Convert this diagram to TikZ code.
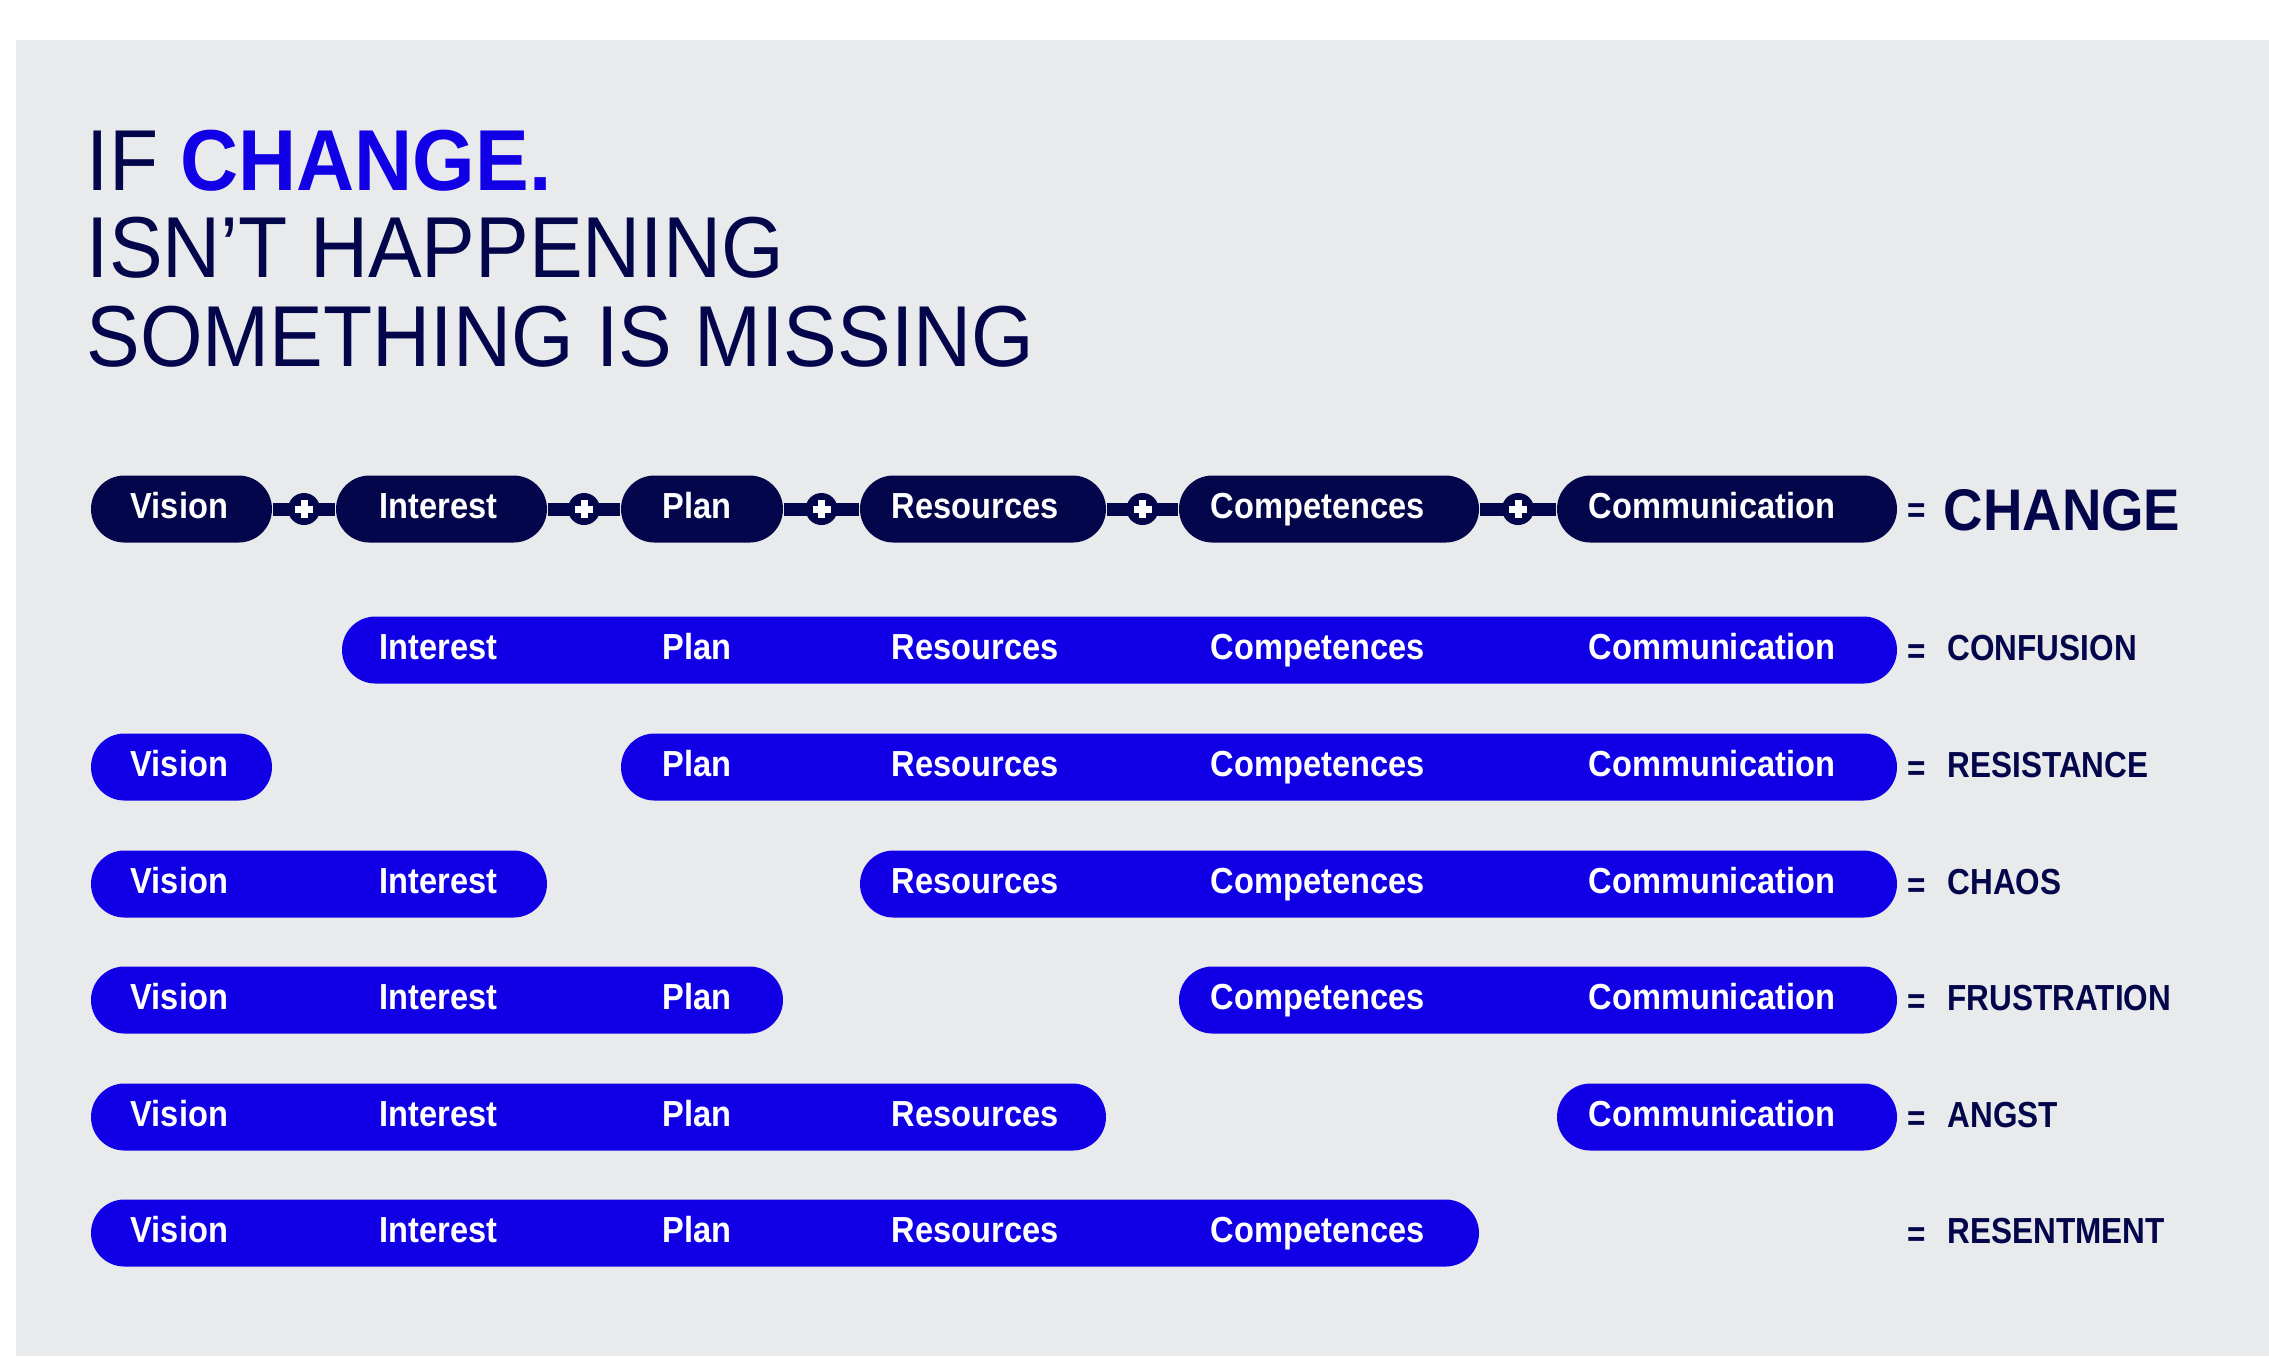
\documentclass[tikz,border=0pt]{standalone}
\usepackage{fontspec}
\setmainfont{Liberation Sans}
\newfontfamily\headfont{Liberation Sans}[FakeStretch=0.93]
\newfontfamily\condensed{Liberation Sans}[FakeStretch=0.9]
\newfontfamily\narrowed{Liberation Sans}[FakeStretch=0.87]
\usetikzlibrary{fit}

\definecolor{navy}{HTML}{03064A}
\definecolor{vivid}{HTML}{1100E6}
\definecolor{panel}{HTML}{E9EAEC}

\begin{document}
\begin{tikzpicture}[
        x=0.01cm, y=-0.01cm,
        every node/.style={inner sep=0pt},
        heading/.style={
            anchor=base west,
            text=navy,
            font=\headfont\fontsize{24.6pt}{25pt}\selectfont
        },
        pill/.style={
            rectangle,
            rounded corners=0.335cm,
            inner xsep=0pt,
            inner ysep=0.335cm
        },
        navypill/.style={pill, fill=navy},
        bluepill/.style={pill, fill=vivid},
        word/.style={
            anchor=base west,
            text=white,
            font=\condensed\bfseries\fontsize{10.3pt}{12pt}\selectfont
        },
        link/.style={draw=navy, line width=0.13cm},
        plus/.style={
            circle,
            fill=navy,
            minimum size=0.32cm,
            path picture={
                \draw[white, line width=0.07cm]
                    ([xshift=-0.09cm]path picture bounding box.center) --
                    ([xshift=0.09cm]path picture bounding box.center)
                    ([yshift=-0.09cm]path picture bounding box.center) --
                    ([yshift=0.09cm]path picture bounding box.center);
            }
        },
        eq/.style={
            anchor=base west,
            text=navy,
            font=\narrowed\bfseries\fontsize{10.3pt}{12pt}\selectfont
        },
        result/.style={eq}
    ]

    \useasboundingbox (0,0) rectangle (2269,1356);
    \fill[white] (0,0) rectangle (2269,1356);
    \fill[panel] (16,40) rectangle (2269,1356);

    % heading
    \node[heading] (title1) at (86,190)
        {IF {\bfseries\color{vivid}CHANGE.}};
    \node[heading] (title2) at (86,277) {ISN’T HAPPENING};
    \node[heading] (title3) at (86,366) {SOMETHING IS MISSING};

    % all six pieces joined
    \node[navypill, fit={(91,509)(272,509)}] (vision) {};
    \node[navypill, fit={(336,509)(547,509)}] (interest) {};
    \node[navypill, fit={(621,509)(783,509)}] (plan) {};
    \node[navypill, fit={(860,509)(1106,509)}] (resources) {};
    \node[navypill, fit={(1179,509)(1479,509)}] (competences) {};
    \node[navypill, fit={(1557,509)(1897,509)}] (communication) {};

    \draw[link] (vision) -- (interest) node[plus, midway] (plus1) {};
    \draw[link] (interest) -- (plan) node[plus, midway] (plus2) {};
    \draw[link] (plan) -- (resources) node[plus, midway] (plus3) {};
    \draw[link] (resources) -- (competences) node[plus, midway] (plus4) {};
    \draw[link] (competences) -- (communication) node[plus, midway] (plus5) {};

    \foreach \w/\x in {Vision/130, Interest/379, Plan/662,
            Resources/891, Competences/1210, Communication/1588}
        \node[word] (top-\w) at (\x,518) {\w};

    \node[eq] (eq-change) at (1907,522) {=};
    \node[result, font=\headfont\bfseries\fontsize{16.7pt}{18pt}\selectfont]
        (change) at (1943,530) {CHANGE};

    % one piece missing per row
    \node[bluepill, fit={(342,650)(1897,650)}] (confusion-bar) {};
    \foreach \w/\x in {Interest/379, Plan/662, Resources/891,
            Competences/1210, Communication/1588}
        \node[word] (confusion-\w) at (\x,659) {\w};

    \node[bluepill, fit={(91,767)(272,767)}] (resistance-left) {};
    \node[bluepill, fit={(621,767)(1897,767)}] (resistance-right) {};
    \foreach \w/\x in {Vision/130, Plan/662, Resources/891,
            Competences/1210, Communication/1588}
        \node[word] (resistance-\w) at (\x,776) {\w};

    \node[bluepill, fit={(91,884)(547,884)}] (chaos-left) {};
    \node[bluepill, fit={(860,884)(1897,884)}] (chaos-right) {};
    \foreach \w/\x in {Vision/130, Interest/379, Resources/891,
            Competences/1210, Communication/1588}
        \node[word] (chaos-\w) at (\x,893) {\w};

    \node[bluepill, fit={(91,1000)(783,1000)}] (frustration-left) {};
    \node[bluepill, fit={(1179,1000)(1897,1000)}] (frustration-right) {};
    \foreach \w/\x in {Vision/130, Interest/379, Plan/662,
            Competences/1210, Communication/1588}
        \node[word] (frustration-\w) at (\x,1009) {\w};

    \node[bluepill, fit={(91,1117)(1106,1117)}] (angst-left) {};
    \node[bluepill, fit={(1557,1117)(1897,1117)}] (angst-right) {};
    \foreach \w/\x in {Vision/130, Interest/379, Plan/662,
            Resources/891, Communication/1588}
        \node[word] (angst-\w) at (\x,1126) {\w};

    \node[bluepill, fit={(91,1233)(1479,1233)}] (resentment-bar) {};
    \foreach \w/\x in {Vision/130, Interest/379, Plan/662,
            Resources/891, Competences/1210}
        \node[word] (resentment-\w) at (\x,1242) {\w};

    % outcomes
    \foreach \y/\name in {650/CONFUSION, 767/RESISTANCE, 884/CHAOS,
            1000/FRUSTRATION, 1117/ANGST, 1233/RESENTMENT} {
        \node[eq] (eq-\name) at (1907,\y+13) {=};
        \node[result] (res-\name) at (1947,\y+10) {\name};
    }

\end{tikzpicture}
\end{document}
